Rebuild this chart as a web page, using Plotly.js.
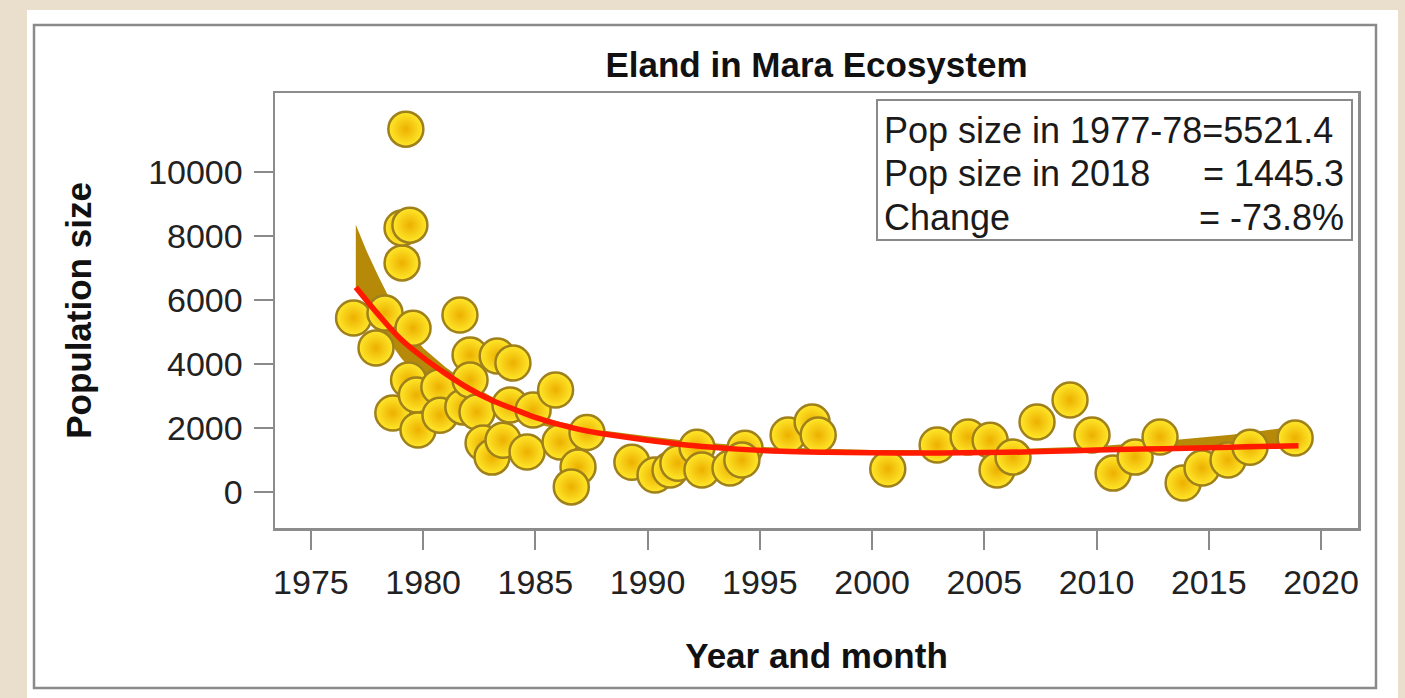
<!DOCTYPE html>
<html>
<head>
<meta charset="utf-8">
<script src="https://cdn.plot.ly/plotly-3.0.1.min.js"></script>
<style>
  html, body { margin: 0; padding: 0; background: #eadfcc; }
  #chart { width: 1405px; height: 698px; }
</style>
</head>
<body>
<div id="chart"></div>
<script>
// ---- Data ----
const years = [1976.9, 1977.9, 1978.3, 1978.65, 1979.06, 1979.06, 1979.41, 1979.23, 1979.55, 1979.35,
  1979.7, 1979.77, 1980.7, 1980.75, 1981.64, 1981.77, 1982.09, 1982.09, 1982.4, 1982.67,
  1983.07, 1983.3, 1984.0, 1983.56, 1983.87, 1984.63, 1984.9, 1985.9, 1986.1, 1987.3,
  1986.9, 1986.6, 1989.3, 1990.33, 1991.0, 1991.35, 1992.2, 1992.42, 1993.67, 1994.34,
  1994.2, 1996.26, 1997.33, 1997.6, 2000.7, 2002.9, 2004.28, 2005.26, 2005.57, 2006.28,
  2007.35, 2008.82, 2009.8, 2010.74, 2011.72, 2012.83, 2013.86, 2014.7, 2015.86, 2016.84,
  2018.85];
const population = [5440, 4500, 5590, 2470, 7160, 8250, 8340, 11340, 5120, 3500,
  3030, 1940, 3280, 2400, 5530, 2660, 4280, 3500, 2500, 1530,
  1090, 4250, 4030, 1620, 2720, 1250, 2560, 3190, 1560, 1860,
  780, 160, 930, 530, 690, 900, 1400, 690, 750, 1370,
  1000, 1780, 2190, 1780, 720, 1470, 1720, 1620, 690, 1090,
  2190, 2875, 1780, 590, 1090, 1720, 280, 750, 1000, 1400,
  1690];

const fitYears = [1977, 1978, 1979, 1980, 1981, 1982, 1983, 1984, 1985, 1986, 1987, 1988, 1990, 1992,
  1994, 1996, 1998, 2000, 2002, 2004, 2006, 2008, 2010, 2012, 2014, 2016, 2018, 2019];
const fitValues = [6400, 5550, 4780, 4200, 3700, 3250, 2880, 2600, 2330, 2120, 1950, 1820, 1620, 1450,
  1340, 1270, 1240, 1225, 1220, 1225, 1240, 1270, 1310, 1340, 1370, 1400, 1430, 1445];

const bandYears = [1977.0, 1977.5, 1978.0, 1978.5, 1979.0, 1979.5, 1980.0, 1981.0, 1982.0, 1983.0, 1984.0,
  1985.0, 1986.0, 1988.0, 1990.0, 1992.0, 1995.0, 2000.0, 2005.0, 2008.0, 2010.0, 2012.0, 2014.0,
  2016.0, 2018.0, 2019.0];
const bandUpper = [8350, 7500, 6750, 6050, 5450, 4950, 4500, 3900, 3400, 3000, 2700,
  2420, 2200, 1920, 1740, 1580, 1410, 1310, 1310, 1370, 1430, 1530, 1650,
  1790, 1970, 2070];
const bandLower = [6400, 5800, 5250, 4700, 4200, 3800, 3500, 3050, 2750, 2480, 2280,
  2120, 1980, 1760, 1570, 1400, 1270, 1190, 1180, 1210, 1250, 1290, 1330,
  1370, 1410, 1440];

const xTicks = [1975, 1980, 1985, 1990, 1995, 2000, 2005, 2010, 2015, 2020];
const yTicks = [0, 2000, 4000, 6000, 8000, 10000];

const chartTitle = 'Eland in Mara Ecosystem';
const xTitle = 'Year and month';
const yTitle = 'Population size';
const boxLabels = ['Pop size in 1977-78=5521.4', 'Pop size in 2018', 'Change'];
const boxValues = ['', '= 1445.3', '= -73.8%'];

// ---- Layout helpers (pixel -> paper) ----
const W = 1405, H = 698;
const M = {l: 275, r: 47, t: 93, b: 170};
const PW = W - M.l - M.r, PH = H - M.t - M.b;
const px = x => (x - M.l) / PW;
const py = y => (H - M.b - y) / PH;

const FONT = 'Liberation Sans, Arial, Helvetica, sans-serif';

const traces = [
  {
    x: bandYears.concat(bandYears.slice().reverse()),
    y: bandUpper.concat(bandLower.slice().reverse()),
    type: 'scatter', mode: 'lines', fill: 'toself',
    fillcolor: '#b68a08', line: {width: 0, color: '#b68a08'},
    hoverinfo: 'skip', showlegend: false
  },
  {
    x: years, y: population, type: 'scatter', mode: 'markers',
    marker: {
      size: 35, color: '#ffe82a',
      gradient: {type: 'radial', color: '#edb000'},
      line: {color: '#a0801a', width: 2.5}
    },
    showlegend: false
  },
  {
    x: fitYears, y: fitValues, type: 'scatter', mode: 'lines',
    line: {color: '#ff1a00', width: 5.5, shape: 'spline'},
    showlegend: false
  }
];

const annotations = [];
const rowY = [130, 173, 217];
for (let i = 0; i < boxLabels.length; i++) {
  annotations.push({
    xref: 'paper', yref: 'paper', x: px(882), y: py(rowY[i]),
    xanchor: 'left', yanchor: 'middle', showarrow: false,
    text: boxLabels[i], font: {family: FONT, size: 36, color: '#1a1a1a'}
  });
  if (boxValues[i]) {
    annotations.push({
      xref: 'paper', yref: 'paper', x: px(1346), y: py(rowY[i]),
      xanchor: 'right', yanchor: 'middle', showarrow: false,
      text: boxValues[i], font: {family: FONT, size: 36, color: '#1a1a1a'}
    });
  }
}

const layout = {
  width: W, height: H,
  margin: M,
  paper_bgcolor: '#eadfcc',
  plot_bgcolor: '#ffffff',
  font: {family: FONT, color: '#222'},
  title: {
    text: '<b>' + chartTitle + '</b>',
    font: {family: FONT, size: 35, color: '#111'},
    x: 0.5, xref: 'paper', xanchor: 'center',
    y: 1 - 65 / H, yref: 'container', yanchor: 'middle'
  },
  xaxis: {
    range: [1973.4, 2021.65],
    tickvals: xTicks, ticktext: xTicks.map(String),
    ticks: 'outside', ticklen: 19, tickwidth: 2, tickcolor: '#8a8a8a',
    ticklabelstandoff: 4,
    tickfont: {family: FONT, size: 34, color: '#222'},
    showline: true, mirror: true, linecolor: '#8c8c8c', linewidth: 2.5,
    showgrid: false, zeroline: false,
    title: {text: '<b>' + xTitle + '</b>', font: {family: FONT, size: 35, color: '#111'}, standoff: 43}
  },
  yaxis: {
    range: [-1125, 12469],
    tickvals: yTicks, ticktext: yTicks.map(String),
    ticks: 'outside', ticklen: 19, tickwidth: 2, tickcolor: '#8a8a8a',
    ticklabelstandoff: 4,
    tickfont: {family: FONT, size: 34, color: '#222'},
    showline: true, mirror: true, linecolor: '#8c8c8c', linewidth: 2.5,
    showgrid: false, zeroline: false,
    title: {text: '<b>' + yTitle + '</b>', font: {family: FONT, size: 35, color: '#111'}, standoff: 46}
  },
  shapes: [
    {type: 'rect', xref: 'paper', yref: 'paper', layer: 'below',
     x0: px(27), x1: px(1398), y0: py(698), y1: py(10),
     fillcolor: '#ffffff', line: {width: 0}},
    {type: 'rect', xref: 'paper', yref: 'paper', layer: 'below',
     x0: px(34), x1: px(1376), y0: py(688), y1: py(25),
     fillcolor: 'rgba(0,0,0,0)', line: {color: '#8a8a8a', width: 2.5}},
    {type: 'rect', xref: 'paper', yref: 'paper', layer: 'above',
     x0: px(877), x1: px(1352), y0: py(240), y1: py(100),
     fillcolor: '#ffffff', line: {color: '#8a8a8a', width: 2}}
  ],
  annotations: annotations
};

Plotly.newPlot('chart', traces, layout, {displayModeBar: false, staticPlot: true});
</script>
</body>
</html>
